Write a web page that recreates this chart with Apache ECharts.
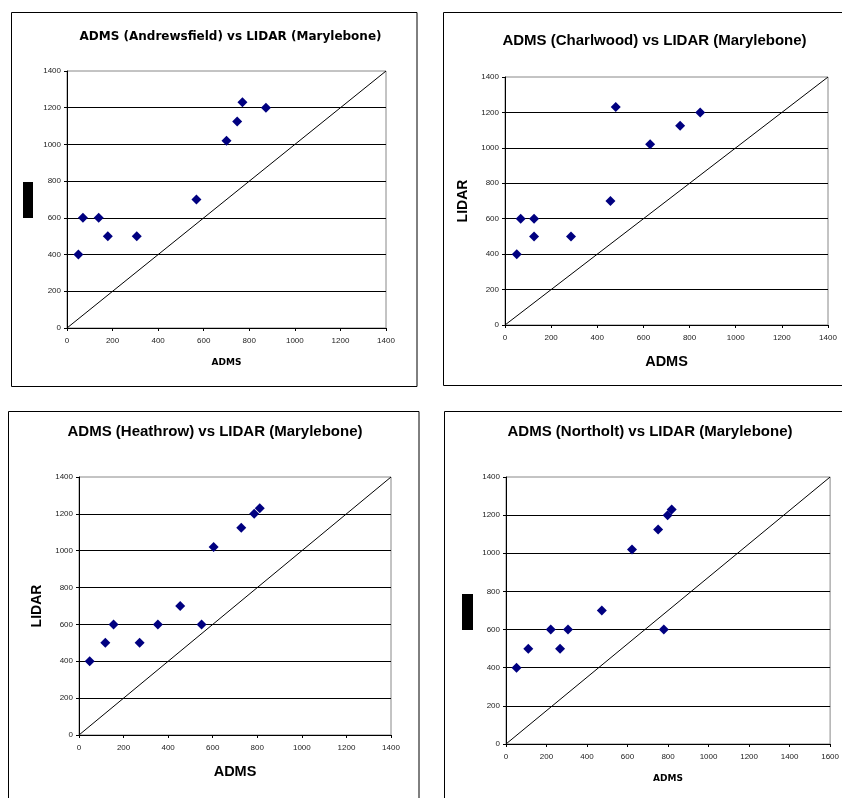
<!DOCTYPE html>
<html>
<head>
<meta charset="utf-8">
<script src="https://cdn.jsdelivr.net/npm/echarts@6/dist/echarts.min.js"></script>
<style>
  html, body { margin: 0; padding: 0; background: #fff; }
  #chart { width: 842px; height: 798px; }
</style>
</head>
<body>
<div id="chart"></div>
<script>
// scatter values (ADMS on x, LIDAR on y)
const andrewsfieldAdms = [50, 70, 139, 179, 306, 568, 700, 747, 770, 873];
const andrewsfieldLidar = [400, 600, 600, 500, 500, 700, 1020, 1125, 1230, 1200];
const charlwoodAdms = [51, 68, 126, 126, 286, 457, 480, 629, 759, 846];
const charlwoodLidar = [400, 600, 600, 500, 500, 700, 1230, 1020, 1125, 1200];
const heathrowAdms = [48, 118, 155, 272, 354, 454, 550, 604, 728, 786, 811];
const heathrowLidar = [400, 500, 600, 500, 600, 700, 600, 1020, 1125, 1200, 1230];
const northoltAdms = [52, 110, 221, 267, 306, 473, 622, 751, 779, 798, 818];
const northoltLidar = [400, 500, 600, 500, 600, 700, 1020, 1125, 600, 1200, 1230];

// 1:1 reference lines (the Northolt one runs to the corner of a 1600-wide axis)
const refLineX = [0, 1400];
const refLineY = [0, 1400];
const northoltLineX = [0, 1600];
const northoltLineY = [0, 1400];

const titles = [
    'ADMS (Andrewsfield) vs LIDAR (Marylebone)',
    'ADMS (Charlwood) vs LIDAR (Marylebone)',
    'ADMS (Heathrow) vs LIDAR (Marylebone)',
    'ADMS (Northolt) vs LIDAR (Marylebone)'
];
const xMax = [1400, 1400, 1400, 1600];

const chart = echarts.init(document.getElementById('chart'));

const zip = (xs, ys) => xs.map((x, i) => [x, ys[i]]);

const panels = [
    { grid: { left: 67, top: 71, width: 319, height: 257 }, xs: andrewsfieldAdms, ys: andrewsfieldLidar, lx: refLineX, ly: refLineY, bigNames: false },
    { grid: { left: 505, top: 77, width: 323, height: 248 }, xs: charlwoodAdms, ys: charlwoodLidar, lx: refLineX, ly: refLineY, bigNames: true },
    { grid: { left: 79, top: 477, width: 312, height: 258 }, xs: heathrowAdms, ys: heathrowLidar, lx: refLineX, ly: refLineY, bigNames: true },
    { grid: { left: 506, top: 477, width: 326, height: 267 }, xs: northoltAdms, ys: northoltLidar, lx: northoltLineX, ly: northoltLineY, bigNames: false }
];

// plain numbers, no thousands separator
const labelStyle = { fontFamily: 'Liberation Sans', fontSize: 8, color: '#222', formatter: (v) => String(v) };

const grid = [], xAxis = [], yAxis = [], series = [];
panels.forEach((p, i) => {
    grid.push(Object.assign({ show: true, borderColor: '#888', borderWidth: 1, backgroundColor: 'transparent' }, p.grid));
    xAxis.push({
        type: 'value', gridIndex: i, min: 0, max: xMax[i], interval: 200,
        name: 'ADMS', nameLocation: 'middle', nameGap: p.bigNames ? 29 : 30,
        nameTextStyle: p.bigNames
            ? { fontFamily: 'Liberation Sans', fontWeight: 'bold', fontSize: 14.5, color: '#000' }
            : { fontFamily: 'DejaVu Sans', fontWeight: 'bold', fontSize: 9, color: '#000' },
        axisLine: { onZero: false, lineStyle: { color: '#000', width: 1 } },
        axisTick: { show: true, length: 3, lineStyle: { color: '#000' } },
        axisLabel: Object.assign({ margin: 9 }, labelStyle),
        splitLine: { show: false }
    });
    yAxis.push({
        type: 'value', gridIndex: i, min: 0, max: 1400, interval: 200,
        name: p.bigNames ? 'LIDAR' : '', nameLocation: 'middle', nameGap: 35,
        nameTextStyle: { fontFamily: 'Liberation Sans', fontWeight: 'bold', fontSize: 14, color: '#000' },
        axisLine: { onZero: false, lineStyle: { color: '#000', width: 1 } },
        axisTick: { show: true, length: 3, lineStyle: { color: '#000' } },
        axisLabel: Object.assign({ margin: 6 }, labelStyle),
        splitLine: { show: true, showMinLine: false, showMaxLine: false, lineStyle: { color: '#000', width: 1 } }
    });
    series.push({
        type: 'line', xAxisIndex: i, yAxisIndex: i, data: zip(p.lx, p.ly),
        showSymbol: false, silent: true, animation: false,
        lineStyle: { color: '#000', width: 1 }, z: 2
    });
    series.push({
        type: 'scatter', xAxisIndex: i, yAxisIndex: i, data: zip(p.xs, p.ys),
        symbol: 'diamond', symbolSize: 10, animation: false,
        itemStyle: { color: '#000080', opacity: 1 }, z: 3
    });
});

const frame = (x, y, w, h) => ({
    type: 'rect', shape: { x: x, y: y, width: w, height: h },
    style: { fill: null, stroke: '#000', lineWidth: 1 }, silent: true
});
const titleText = (text, x, y, big) => ({
    type: 'text', x: x, y: y, silent: true,
    style: {
        text: text, align: 'center', verticalAlign: 'middle', fill: '#000',
        font: big ? 'bold 15px "Liberation Sans"' : 'bold 12px "DejaVu Sans"'
    }
});

chart.setOption({
    animation: false,
    grid: grid,
    xAxis: xAxis,
    yAxis: yAxis,
    series: series,
    graphic: [
        frame(11.5, 12.5, 405.5, 374),
        frame(443.5, 12.5, 410, 373),
        frame(8.5, 411.5, 410.5, 400),
        frame(444.5, 411.5, 410, 400),
        titleText(titles[0], 230.5, 37, false),
        titleText(titles[1], 654.5, 41, true),
        titleText(titles[2], 215, 432, true),
        titleText(titles[3], 650, 432, true),
        // solid black blocks where the y-axis title is masked in panels 1 and 4
        { type: 'rect', shape: { x: 23, y: 182, width: 10, height: 36 }, style: { fill: '#000' }, silent: true },
        { type: 'rect', shape: { x: 462, y: 594, width: 11, height: 36 }, style: { fill: '#000' }, silent: true }
    ]
});
</script>
</body>
</html>
